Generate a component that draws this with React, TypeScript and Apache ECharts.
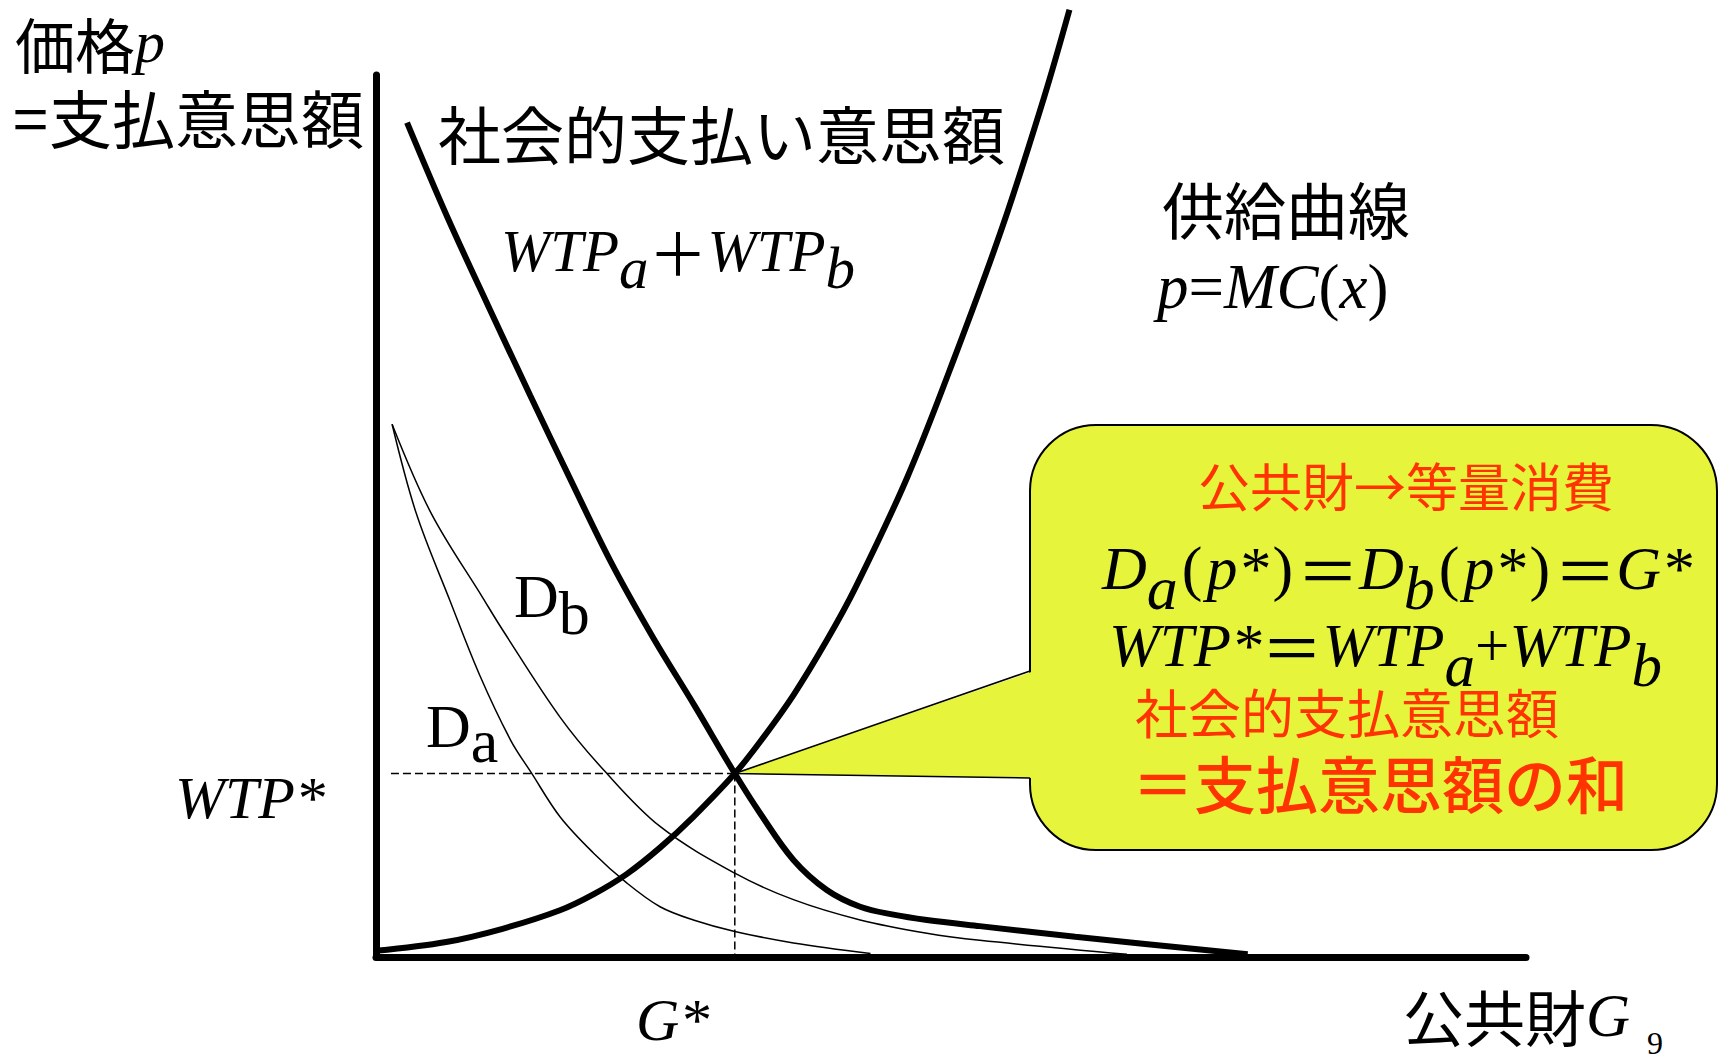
import React, { useEffect, useRef } from "react";
import * as echarts from "echarts";

// ---- data (x: quantity of public good G, y: price / willingness to pay) ----
const SUPPLY_X = [0, 6.1, 11.0, 16.0, 18.9, 21.8, 24.7, 27.6, 31.2, 33.4, 36.3, 39.2, 41.7, 46.2, 50.4, 54.5, 58.1, 60.3];
const SUPPLY_Y = [0.7, 1.7, 3.2, 5.3, 7.1, 9.4, 12.4, 15.9, 20.8, 24.4, 29.7, 35.9, 41.9, 54.4, 68.3, 82.9, 97.5, 107.4];

const SOCIAL_X = [2.7, 6.2, 9.8, 13.4, 17.0, 20.5, 24.1, 27.7, 31.2, 33.4, 36.3, 39.2, 42.1, 45.0, 47.9, 52.5, 60.8, 75.8];
const SOCIAL_Y = [94.6, 83.9, 73.7, 63.7, 53.9, 44.6, 36.2, 28.5, 20.8, 16.3, 11.0, 7.6, 5.7, 4.8, 4.2, 3.5, 2.3, 0.3];

const DB_X = [1.4, 4.8, 9.3, 11.0, 16.0, 19.8, 24.7, 31.2, 36.3, 42.1, 47.9, 52.5, 65.3];
const DB_Y = [60.4, 50.3, 40.7, 37.1, 27.2, 21.2, 14.8, 9.5, 6.5, 4.2, 2.7, 1.9, 0.3];

const DA_X = [1.4, 3.5, 6.4, 9.0, 11.7, 13.5, 16.0, 18.9, 21.8, 24.7, 27.6, 31.2, 36.3, 43.0];
const DA_Y = [60.4, 50.3, 40.5, 32.0, 24.6, 20.9, 15.9, 11.8, 8.4, 5.7, 4.2, 2.9, 1.6, 0.4];

const G_STAR = 31.2;
const WTP_STAR = 20.8;
const DASH_START_X = 1.3;

const AXIS_MIN = 0;
const AXIS_MAX = 100;

const CJK = "'Noto Sans CJK JP', 'Noto Sans CJK SC', sans-serif";
const SERIF = "'Liberation Serif', 'Times New Roman', serif";
const RED = "#FF3300";
const YELLOW = "#E6F43C";

const zip = (xs: number[], ys: number[]) => xs.map((x, i) => [x, ys[i]]);

function mathRich(size: number, sub: number, color = "#000") {
  const base = { fontSize: size, fill: color, verticalAlign: "top" };
  return {
    i: { ...base, fontFamily: SERIF, fontStyle: "italic" },
    s: { ...base, fontFamily: SERIF, fontStyle: "italic", padding: [sub, 0, 0, 0] },
    u: { ...base, fontFamily: SERIF },
    us: { ...base, fontFamily: SERIF, padding: [sub, 0, 0, 0] },
    p: { ...base, fontFamily: SERIF, padding: [0, 4, 0, 4] },
    c: { ...base, fontFamily: CJK },
  };
}

function plainText(x: number, y: number, text: string, size: number, family: string, extra: any = {}) {
  return {
    type: "text",
    x,
    y,
    z: 20,
    style: {
      text,
      fontSize: size,
      fontFamily: family,
      fill: "#000",
      align: "left",
      verticalAlign: "middle",
      textAlign: "left",
      textVerticalAlign: "middle",
      ...extra,
    },
  };
}

function richText(x: number, y: number, text: string, rich: any, vAlign = "top") {
  return {
    type: "text",
    x,
    y,
    z: 20,
    style: {
      text,
      rich,
      align: "left",
      verticalAlign: vAlign,
      textAlign: "left",
      textVerticalAlign: vAlign,
    },
  };
}

export default function App() {
  const ref = useRef<HTMLDivElement>(null);

  useEffect(() => {
    if (!ref.current) return;
    const chart = echarts.init(ref.current, null, { renderer: "svg" });

    const thick = { color: "#000", width: 6 };
    const thin = { color: "#000", width: 1.5 };
    const dashed = { color: "#000", width: 1.5, type: [8, 4] };

    const common = {
      type: "line",
      symbol: "none",
      smooth: 0.35,
      clip: false,
      silent: true,
    };

    chart.setOption({
      animation: false,
      backgroundColor: "#fff",
      grid: { left: 376, right: 193, top: 75, bottom: 106 },
      xAxis: {
        type: "value",
        min: AXIS_MIN,
        max: AXIS_MAX,
        axisLine: { show: true, onZero: false, lineStyle: { color: "#000", width: 7 } },
        axisTick: { show: false },
        axisLabel: { show: false },
        splitLine: { show: false },
      },
      yAxis: {
        type: "value",
        min: AXIS_MIN,
        max: AXIS_MAX,
        axisLine: { show: true, onZero: false, lineStyle: { color: "#000", width: 7 } },
        axisTick: { show: false },
        axisLabel: { show: false },
        splitLine: { show: false },
      },
      series: [
        { ...common, name: "Da", data: zip(DA_X, DA_Y), lineStyle: thin },
        { ...common, name: "Db", data: zip(DB_X, DB_Y), lineStyle: thin },
        {
          ...common,
          smooth: false,
          name: "hdash",
          data: [
            [DASH_START_X, WTP_STAR],
            [G_STAR, WTP_STAR],
          ],
          lineStyle: dashed,
        },
        {
          ...common,
          smooth: false,
          name: "vdash",
          data: [
            [G_STAR, WTP_STAR],
            [G_STAR, 0],
          ],
          lineStyle: dashed,
        },
        { ...common, name: "social", data: zip(SOCIAL_X, SOCIAL_Y), lineStyle: thick },
        { ...common, name: "supply", data: zip(SUPPLY_X, SUPPLY_Y), lineStyle: thick },
      ],
    });

    const tip = chart.convertToPixel({ gridIndex: 0 }, [G_STAR, WTP_STAR]) as number[];

    const boxL = 1030;
    const boxT = 425;
    const boxR = 1717;
    const boxB = 850;
    const notchTop = 671;
    const notchBot = 778;

    const graphic: any[] = [
      {
        type: "rect",
        z: 10,
        shape: { x: boxL, y: boxT, width: boxR - boxL, height: boxB - boxT, r: 66 },
        style: { fill: YELLOW, stroke: "#000", lineWidth: 2 },
      },
      {
        type: "polygon",
        z: 11,
        shape: { points: [[boxL + 4, notchTop], [tip[0], tip[1]], [boxL + 4, notchBot]] },
        style: { fill: YELLOW, stroke: null },
      },
      {
        type: "polyline",
        z: 12,
        shape: { points: [[boxL, notchTop], [tip[0], tip[1]], [boxL, notchBot]] },
        style: { fill: null, stroke: "#000", lineWidth: 1.5 },
      },
      // axis titles
      richText(15, 42, "{c|価格}{i|p}", {
        c: { fontFamily: CJK, fontSize: 60, fill: "#000", lineHeight: 52 },
        i: { fontFamily: SERIF, fontStyle: "italic", fontSize: 60, fill: "#000", lineHeight: 52 },
      }, "middle"),
      richText(13, 115, "{e|=}{c|支払意思額}", {
        e: { fontFamily: CJK, fontSize: 63, fill: "#000", padding: [0, 1, 0, 0], lineHeight: 56 },
        c: { fontFamily: CJK, fontSize: 63, fill: "#000", lineHeight: 56 },
      }, "middle"),
      plainText(438, 131, "社会的支払い意思額", 63, CJK),
      richText(501, 221, "{i|WTP}{s|a}{c|＋}{i|WTP}{s|b}", mathRich(59, 17)),
      plainText(1162, 208, "供給曲線", 62, CJK),
      richText(1157, 287, "{i|p}{u|=}{i|MC}{u|(}{i|x}{u|)}", {
        i: { fontFamily: SERIF, fontStyle: "italic", fontSize: 63, fill: "#000" },
        u: { fontFamily: SERIF, fontSize: 63, fill: "#000" },
      }, "middle"),
      richText(514, 565, "{u|D}{us|b}", mathRich(62, 17)),
      richText(426, 695, "{u|D}{us|a}", mathRich(62, 15)),
      plainText(175, 798, "WTP*", 60, SERIF, { fontStyle: "italic" }),
      plainText(636, 1020, "G*", 60, SERIF, { fontStyle: "italic" }),
      richText(1403, 1015, "{c|公共財}{i|G}", {
        c: { fontFamily: CJK, fontSize: 61, fill: "#000" },
        i: { fontFamily: SERIF, fontStyle: "italic", fontSize: 61, fill: "#000" },
      }, "middle"),
      plainText(1647, 1043, "9", 32, SERIF),
      // callout text
      plainText(1198, 484, "公共財→等量消費", 52, CJK, { fill: RED }),
      richText(
        1102,
        537,
        "{i|D}{s|a}{p|(}{i|p*}{p|)}{c|＝}{i|D}{s|b}{p|(}{i|p*}{p|)}{c|＝}{i|G*}",
        mathRich(62, 20)
      ),
      richText(1109, 615, "{i|WTP*}{c|＝}{i|WTP}{s|a}{u|+}{i|WTP}{s|b}", mathRich(61, 20)),
      plainText(1135, 711, "社会的支払意思額", 53, CJK, { fill: RED }),
      plainText(1132, 782, "＝支払意思額の和", 62, CJK, { fill: RED, fontWeight: 500 }),
    ];

    chart.setOption({ graphic });

    return () => chart.dispose();
  }, []);

  return (
    <div
      ref={ref}
      style={{ position: "fixed", left: 0, top: 0, width: 1719, height: 1063, background: "#fff" }}
    />
  );
}
